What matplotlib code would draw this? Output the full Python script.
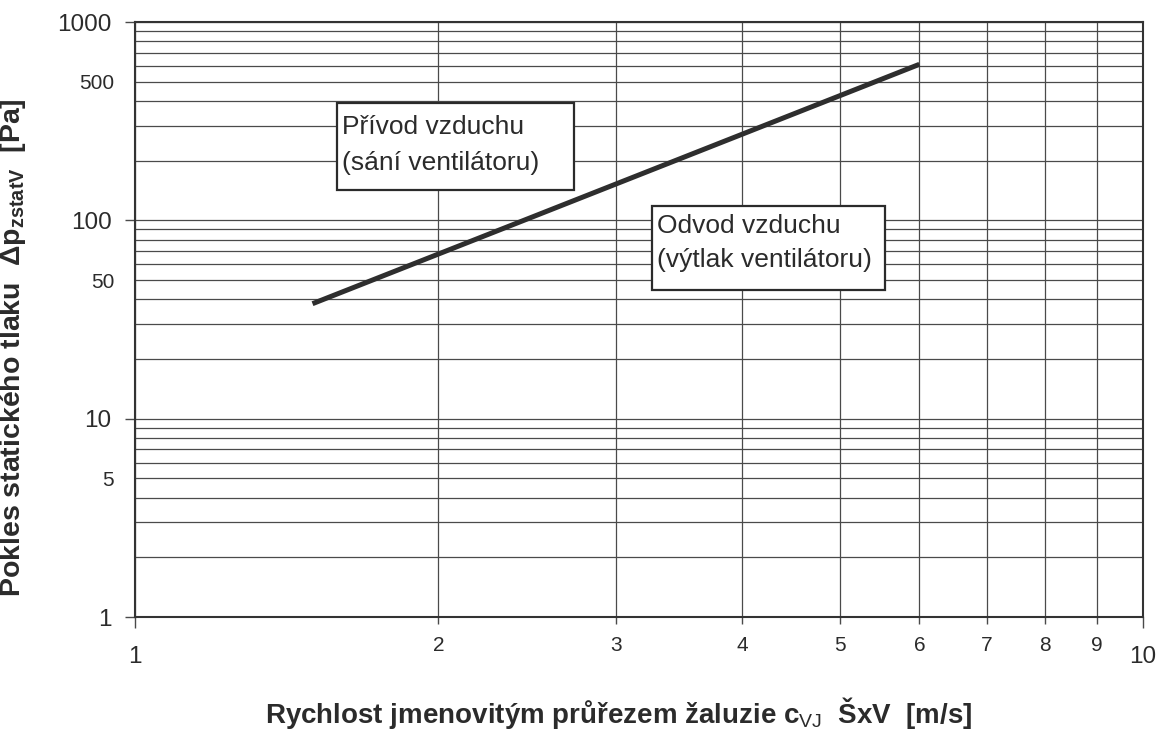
import matplotlib
matplotlib.use("Agg")
import matplotlib.pyplot as plt
from matplotlib.ticker import FixedLocator, FuncFormatter
from matplotlib.patches import Rectangle

# ---- data ----
velocity = [1.5, 6.0]          # m/s
pressure_drop = [38.0, 612.0]  # Pa

x_major = [1, 10]
x_minor = [2, 3, 4, 5, 6, 7, 8, 9]
y_major = [1, 10, 100, 1000]
y_minor = [m * d for d in (1, 10, 100) for m in range(2, 10)]
y_minor_labeled = [5, 50, 500]

label_supply = ["Přívod vzduchu", "(sání ventilátoru)"]
label_exhaust = ["Odvod vzduchu", "(výtlak ventilátoru)"]

# ---- style ----
plt.rcParams['font.family'] = ['Liberation Sans', 'DejaVu Sans']
plt.rcParams['mathtext.fontset'] = 'custom'
plt.rcParams['mathtext.rm'] = 'Liberation Sans'
plt.rcParams['mathtext.bf'] = 'Liberation Sans:bold'
plt.rcParams['mathtext.it'] = 'Liberation Sans:italic'
TXT = '#2b2b2b'
GRID = '#4a4a4a'

fig = plt.figure(figsize=(11.57, 7.29), dpi=100)
ax = fig.add_axes([0.1167, 0.1536, 0.8712, 0.8162])

ax.set_xscale('log')
ax.set_yscale('log')
ax.set_xlim(1, 10)
ax.set_ylim(1, 1000)

ax.plot(velocity, pressure_drop, color='#2e2e2e', lw=3.6, solid_capstyle='butt', zorder=3)

# ticks
ax.xaxis.set_major_locator(FixedLocator(x_major))
ax.xaxis.set_minor_locator(FixedLocator(x_minor))
ax.xaxis.set_major_formatter(FuncFormatter(lambda v, p: f"{v:g}"))
ax.xaxis.set_minor_formatter(FuncFormatter(lambda v, p: f"{v:g}"))
ax.yaxis.set_major_locator(FixedLocator(y_major))
ax.yaxis.set_minor_locator(FixedLocator(y_minor))
ax.yaxis.set_major_formatter(FuncFormatter(lambda v, p: f"{v:g}"))
ax.yaxis.set_minor_formatter(FuncFormatter(lambda v, p: f"{v:g}" if any(abs(v - t) < 1e-6 for t in y_minor_labeled) else ""))

ax.tick_params(axis='y', which='major', length=7, width=1, color=GRID, labelsize=17.5, pad=10, labelcolor=TXT)
ax.tick_params(axis='y', which='minor', length=0, labelsize=15, pad=15, labelcolor=TXT)
ax.tick_params(axis='x', which='major', length=8, width=1, color=GRID, labelsize=17.5, pad=13, labelcolor=TXT)
ax.tick_params(axis='x', which='minor', length=5, width=1, color=GRID, labelsize=15, pad=9, labelcolor=TXT)

ax.grid(True, which='both', color=GRID, lw=0.9)
ax.set_axisbelow(True)
for s in ax.spines.values():
    s.set_color('#333333')
    s.set_linewidth(1.5)

# boxes with annotations
def box(x0, y0, x1, y1, lines, tx, ty1, ty2):
    ax.add_patch(Rectangle((x0, y0), x1 - x0, y1 - y0, transform=ax.transAxes,
                           facecolor='white', edgecolor='#2b2b2b', lw=1.6, zorder=4))
    ax.text(tx, ty1, lines[0], transform=ax.transAxes, fontsize=19, color=TXT,
            ha='left', va='baseline', zorder=5)
    ax.text(tx, ty2, lines[1], transform=ax.transAxes, fontsize=19, color=TXT,
            ha='left', va='baseline', zorder=5)

box(0.2004, 0.7176, 0.4355, 0.8639, label_supply, 0.2053, 0.8110, 0.7521)
box(0.5129, 0.5496, 0.7440, 0.6908, label_exhaust, 0.5178, 0.6451, 0.5880)

ax.set_ylabel(r'Pokles statického tlaku  Δp$_{\mathbf{zstatV}}$  [Pa]',
              fontsize=20.5, fontweight='bold', color=TXT)
ax.yaxis.set_label_coords(-0.106, 0.453)
ax.set_xlabel(r'Rychlost jmenovitým průřezem žaluzie c$_{\mathrm{VJ}}$  ŠxV  [m/s]',
              fontsize=20, fontweight='bold', color=TXT, va='center')
ax.xaxis.set_label_coords(0.48, -0.161)

fig.savefig('out.png', dpi=100, facecolor='white')
